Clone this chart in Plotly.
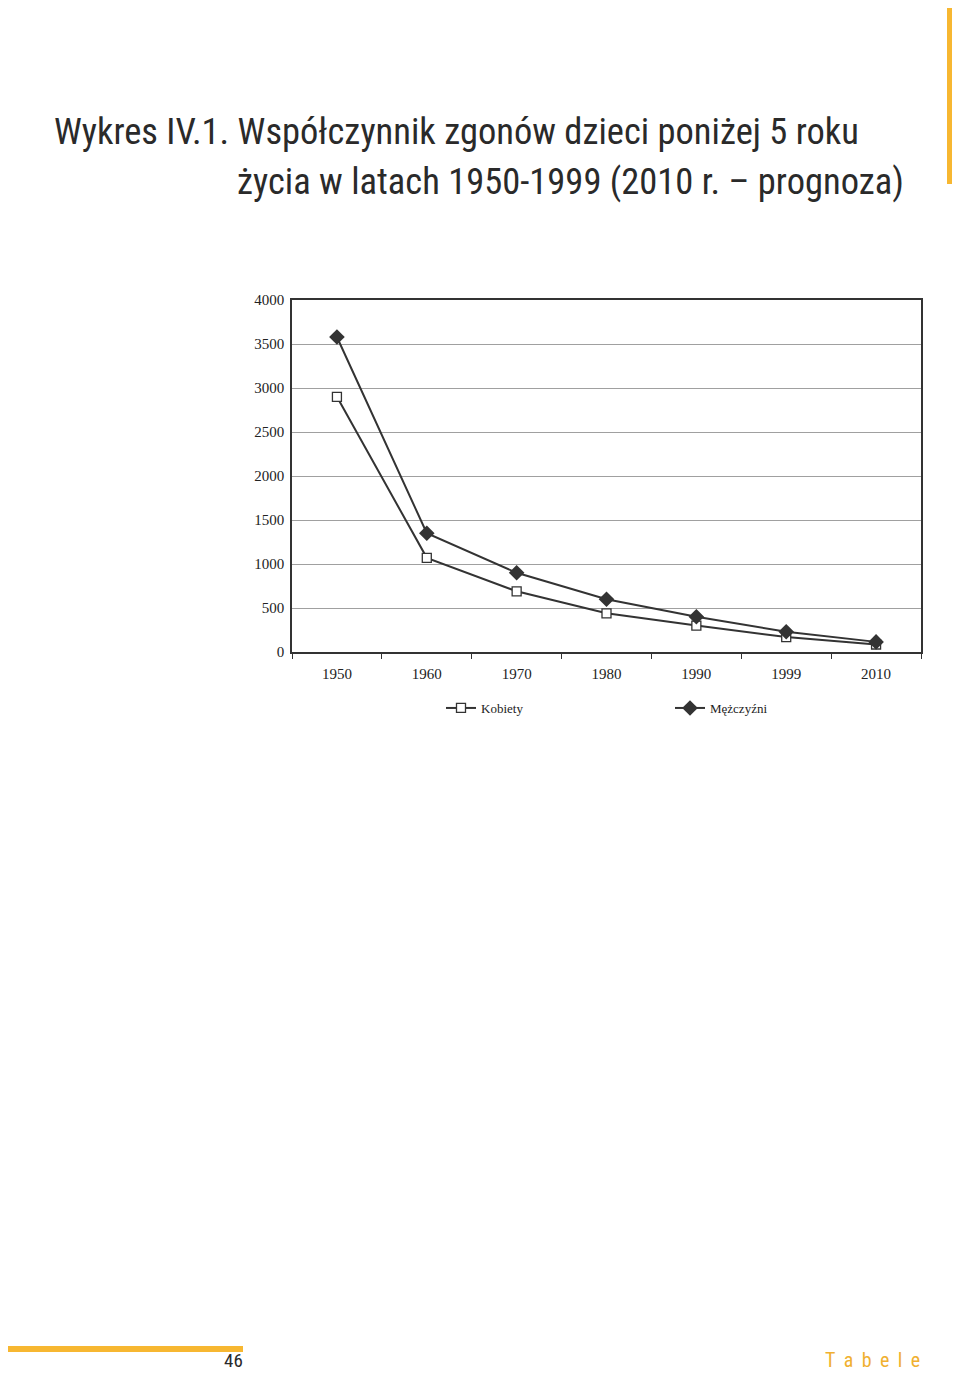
import plotly.graph_objects as go

years = ["1950", "1960", "1970", "1980", "1990", "1999", "2010"]
kobiety = [2900, 1070, 690, 440, 300, 170, 85]
mezczyzni = [3580, 1350, 900, 600, 400, 230, 115]
y_ticks = [0, 500, 1000, 1500, 2000, 2500, 3000, 3500, 4000]

# the page body adds an 8px margin; figure is sized so the page fills the 960x1381 window
OFF = 8
W, H = 960 - 2 * OFF, 1381 - 2 * OFF


def px(x):
    return (x - OFF) / W


def py(y):
    return 1 - (y - OFF) / H


L, R, T, B = 292, 921, 300, 652

fig = go.Figure()
fig.add_trace(go.Scatter(
    x=years, y=kobiety, name="Kobiety", mode="lines+markers",
    line=dict(color="#333333", width=2),
    marker=dict(symbol="square", size=9, color="white", line=dict(color="#333333", width=1.3)),
))
fig.add_trace(go.Scatter(
    x=years, y=mezczyzni, name="Mężczyźni", mode="lines+markers",
    line=dict(color="#333333", width=2),
    marker=dict(symbol="diamond", size=12, color="#333333", line=dict(color="#333333", width=0)),
))

fig.update_layout(
    width=W, height=H,
    margin=dict(l=0, r=0, t=0, b=0, autoexpand=False),
    paper_bgcolor="white", plot_bgcolor="white",
    font=dict(family="Liberation Serif", size=15, color="#222222"),
    xaxis=dict(
        domain=[px(L), px(R)], type="category", tickson="boundaries",
        ticks="outside", ticklen=5, tickcolor="#333333", automargin=False,
        showline=True, linecolor="#333333", linewidth=1.5, mirror=True,
        showgrid=False, tickfont=dict(size=15, family="Liberation Serif"),
        range=[-0.5, 6.5], ticklabelstandoff=7,
    ),
    yaxis=dict(
        domain=[py(B), py(T)], range=[0, 4000], automargin=False,
        tickvals=y_ticks, ticktext=[str(v) for v in y_ticks],
        showline=True, linecolor="#333333", linewidth=1.5, mirror=True,
        showgrid=True, gridcolor="#a0a0a0", gridwidth=1,
        zeroline=False, ticks="", ticklabelstandoff=3,
        tickfont=dict(size=15, family="Liberation Serif"),
    ),
    legend=dict(
        orientation="h", x=px(441), xanchor="left", y=py(693), yanchor="top",
        entrywidth=184, entrywidthmode="pixels",
        font=dict(size=13, family="Liberation Serif"), bgcolor="rgba(0,0,0,0)",
    ),
    showlegend=True,
)

title_font = dict(family="Roboto Condensed", size=36.5, color="#2a2a2a")
fig.add_annotation(text="Wykres IV.1. Współczynnik zgonów dzieci poniżej 5 roku",
                   xref="paper", yref="paper", x=px(52), y=py(131.5),
                   xanchor="left", yanchor="middle", showarrow=False, font=title_font)
fig.add_annotation(text="życia w latach 1950-1999 (2010 r. – prognoza)",
                   xref="paper", yref="paper", x=px(235), y=py(181),
                   xanchor="left", yanchor="middle", showarrow=False, font=title_font)

# decorative page elements
fig.add_shape(type="rect", xref="paper", yref="paper",
              x0=px(947), x1=px(954), y0=py(184), y1=1,
              fillcolor="#f7b731", line=dict(width=0))
fig.add_shape(type="rect", xref="paper", yref="paper",
              x0=0, x1=px(243), y0=py(1352), y1=py(1346),
              fillcolor="#f7b731", line=dict(width=0))
fig.add_annotation(text="46", xref="paper", yref="paper", x=px(244), y=0,
                   xanchor="right", yanchor="bottom", showarrow=False, borderpad=0,
                   font=dict(family="Roboto Condensed", size=19, color="#2a2a2a"))
fig.add_annotation(text="T\u2009 a\u2009 b\u2009 e\u2009 l\u2009 e", xref="paper", yref="paper",
                   x=px(921), y=0,
                   xanchor="right", yanchor="bottom", showarrow=False, borderpad=0,
                   font=dict(family="Roboto Condensed", size=20, color="#f0b030"))

fig.write_html("out.html")
